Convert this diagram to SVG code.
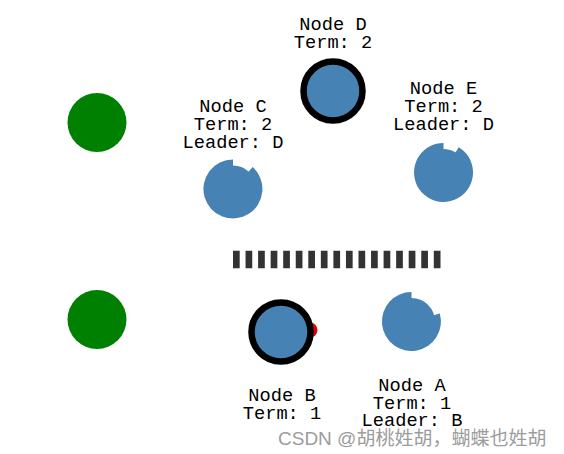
<svg xmlns="http://www.w3.org/2000/svg" width="564" height="454" viewBox="0 0 564 454">
<style>
.lbl{font-family:"Liberation Mono","Courier New",monospace;font-size:18.7px;fill:#000;text-anchor:middle}
.node{fill:#4682b4}
.leader{fill:#4682b4;stroke:#000;stroke-width:6.5}
.client{fill:#008000}
.wm{font-family:"Liberation Sans",Arial,"Noto Sans CJK SC",sans-serif;font-size:19px;fill:#9c9c9c}
</style>
<rect width="564" height="454" fill="#fff"/>
<g id="clients">
<circle class="client" cx="97" cy="122.5" r="29.5"/>
<circle class="client" cx="97" cy="319.5" r="29.5"/>
</g>
<g id="partition">
<line x1="233" y1="259.5" x2="441" y2="259.5" stroke="#333" stroke-width="17.5" stroke-dasharray="6.7 5.85"/>
</g>
<g id="connectors">
<circle cx="310" cy="330" r="7.5" fill="#e00000"/>
</g>
<g id="nodeD">
<circle class="leader" cx="333" cy="91" r="29.5"/>
<text class="lbl" x="333" y="30">Node D</text>
<text class="lbl" x="333" y="48">Term: 2</text>
</g>
<g id="nodeC">
<circle class="node" cx="233" cy="189" r="23.5"/>
<path class="node" d="M233,189 L252.7,167.1 A29.5,29.5 0 1 1 233,159.5 Z"/>
<text class="lbl" x="233" y="111.5">Node C</text>
<text class="lbl" x="233" y="129.5">Term: 2</text>
<text class="lbl" x="233" y="147.5">Leader: D</text>
</g>
<g id="nodeE">
<circle class="node" cx="443.5" cy="172.5" r="23.5"/>
<path class="node" d="M443.5,172.5 L458.7,147.2 A29.5,29.5 0 1 1 443.5,143 Z"/>
<text class="lbl" x="443.5" y="94">Node E</text>
<text class="lbl" x="443.5" y="112">Term: 2</text>
<text class="lbl" x="443.5" y="130">Leader: D</text>
</g>
<g id="nodeB">
<circle class="leader" cx="281" cy="332" r="29.5"/>
<text class="lbl" x="282" y="401">Node B</text>
<text class="lbl" x="282" y="418.5">Term: 1</text>
</g>
<g id="nodeA">
<circle class="node" cx="411.5" cy="321.5" r="23.5"/>
<path class="node" d="M411.5,321.5 L439.8,313.4 A29.5,29.5 0 1 1 411.5,292 Z"/>
<text class="lbl" x="412" y="391">Node A</text>
<text class="lbl" x="412" y="408.5">Term: 1</text>
<text class="lbl" x="412" y="426">Leader: B</text>
</g>
<text class="wm" x="278" y="444.5">CSDN @胡桃姓胡，蝴蝶也姓胡</text>
</svg>
